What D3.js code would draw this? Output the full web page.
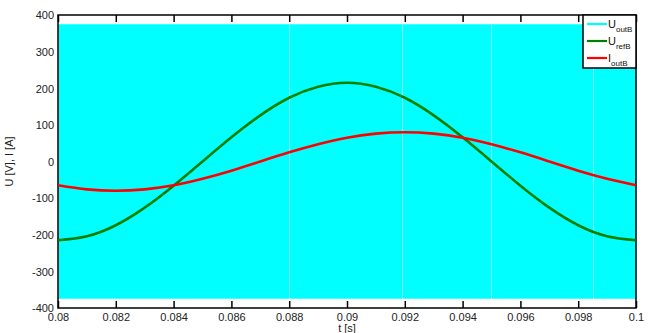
<!DOCTYPE html>
<html><head><meta charset="utf-8">
<script src="https://cdn.jsdelivr.net/npm/d3@7"></script>
<style>body{margin:0;background:#fff}svg{display:block;font-family:"Liberation Sans",Arial,sans-serif}</style>
</head><body><svg id="c" width="650" height="333"></svg>
<script>
const time = [0.080,0.081,0.082,0.083,0.084,0.085,0.086,0.087,0.088,0.089,0.090,0.091,0.092,0.093,0.094,0.095,0.096,0.097,0.098,0.099,0.100];
const uRefB = [-215,-204,-174,-126,-66,0,66,126,174,204,215,204,174,126,66,0,-66,-126,-174,-204,-215];
const iOutB = [-65,-76,-80,-76,-65,-47,-25,0,25,47,65,76,80,76,65,47,25,0,-25,-47,-65];
const uOutBLow = -375, uOutBHigh = 375;
const uOutTime = [0.080,0.100];
const uOutGaps = [0.088,0.0919,0.095,0.0985];
const xTicks = [0.08,0.082,0.084,0.086,0.088,0.09,0.092,0.094,0.096,0.098,0.1];
const yTicks = [400,300,200,100,0,-100,-200,-300,-400];

const L=58,R=636,T=15,B=308;
const svg=d3.select("#c");
const x=d3.scaleLinear().domain([0.08,0.1]).range([L,R]);
const y=d3.scaleLinear().domain([-400,400]).range([B,T]);

// cyan PWM band
svg.append("path").datum(uOutTime)
 .attr("d",d3.area().x(d=>x(d)).y0(y(uOutBLow)).y1(y(uOutBHigh)))
 .attr("fill","#00ffff");
svg.selectAll("line.gap").data(uOutGaps).join("line").attr("class","gap")
 .attr("x1",d=>Math.round(x(d))+0.5).attr("x2",d=>Math.round(x(d))+0.5)
 .attr("y1",y(uOutBHigh)).attr("y2",y(uOutBLow))
 .attr("stroke","#7ffcfc").attr("stroke-width",1);

// axes
const fmt=d=>String(d);
const gb=svg.append("g").attr("transform",`translate(0,${B})`).call(d3.axisBottom(x).tickValues(xTicks).tickSize(-7).tickPadding(5).tickFormat(fmt));
const gt=svg.append("g").attr("transform",`translate(0,${T})`).call(d3.axisTop(x).tickValues(xTicks).tickSize(-7).tickFormat(""));
const gl=svg.append("g").attr("transform",`translate(${L},0)`).call(d3.axisLeft(y).tickValues(yTicks).tickSize(0).tickPadding(4).tickFormat(fmt));
[gb,gt,gl].forEach(g=>{g.select(".domain").remove();g.selectAll("line").attr("stroke","#000").attr("stroke-width",1.5);
 g.selectAll("text").attr("fill","#222").style("font-size","11px").style("font-family","Liberation Sans, Arial, sans-serif");});
gl.selectAll("text").attr("dy","0.35em");

svg.append("rect").attr("x",L).attr("y",T).attr("width",R-L).attr("height",B-T)
 .attr("fill","none").attr("stroke","#000").attr("stroke-width",1.5);

// lines
const line=d3.line().x((d,i)=>x(time[i])).y(d=>y(d)).curve(d3.curveNatural);
svg.append("path").datum(uRefB).attr("d",line).attr("fill","none").attr("stroke","#008000").attr("stroke-width",2.6);
svg.append("path").datum(iOutB).attr("d",line).attr("fill","none").attr("stroke","#ff0000").attr("stroke-width",2.6);

// labels
svg.append("text").attr("x",(L+R)/2).attr("y",332).attr("text-anchor","middle").style("font-size","11px").attr("fill","#222").text("t [s]");
svg.append("text").attr("transform",`translate(13,${(T+B)/2}) rotate(-90)`).attr("text-anchor","middle").style("font-size","11px").attr("fill","#222").text("U [V], I [A]");

// legend
const lg=svg.append("g");
lg.append("rect").attr("x",583).attr("y",T).attr("width",R-583).attr("height",53).attr("fill","#fff").attr("stroke","#000").attr("stroke-width",1.5);
const items=[{n:"U",s:"outB",c:"#00ffff"},{n:"U",s:"refB",c:"#008000"},{n:"I",s:"outB",c:"#ff0000"}];
items.forEach((it,i)=>{
 const yy=T+9+i*17;
 lg.append("line").attr("x1",587).attr("x2",607).attr("y1",yy).attr("y2",yy).attr("stroke",it.c).attr("stroke-width",2.2);
 const t=lg.append("text").attr("x",608).attr("y",yy+4).style("font-size","11px").attr("fill","#111");
 t.append("tspan").text(it.n);
 t.append("tspan").attr("dy",4).style("font-size","8px").text(it.s);
});
</script></body></html>
